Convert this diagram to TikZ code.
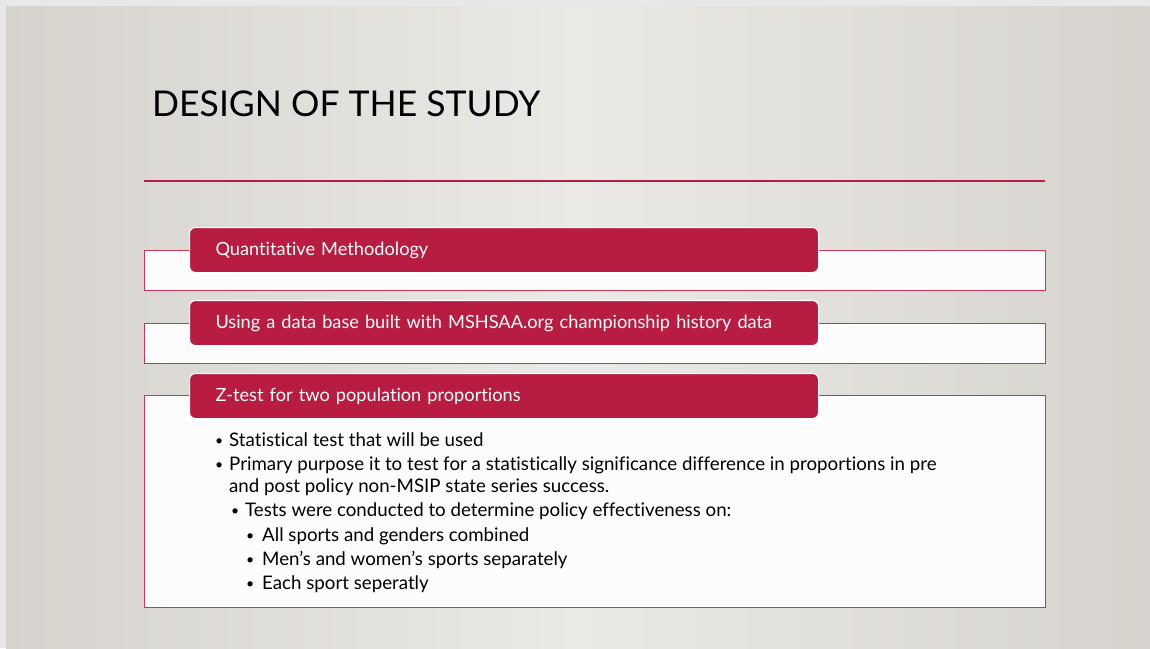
\documentclass[tikz,border=0pt]{standalone}
\usepackage{fontspec}
\setmainfont{Lato}[Ligatures={NoCommon}]
\definecolor{crim}{RGB}{184,29,65}
\definecolor{crimedge}{RGB}{200,55,90}
\definecolor{frame}{RGB}{232,232,232}
\definecolor{bgdark}{RGB}{214,211,205}
\definecolor{bglight}{RGB}{235,233,229}
\definecolor{boxfill}{RGB}{252,252,252}
\tikzset{
  hdr/.style={draw=white, line width=1pt, fill=crim, rounded corners=6pt, anchor=north west,
    minimum width=629pt, minimum height=45pt, inner xsep=26pt, text width=577pt, align=left,
    text=white, font=\fontsize{18.2}{20}\selectfont},
  outerbox/.style={draw=crimedge, line width=1.3pt, fill=boxfill, anchor=north west,
    minimum width=901pt, inner sep=0pt},
  body/.style={anchor=base west, inner sep=0pt, font=\fontsize{18.7}{20}\selectfont},
  dot/.style={anchor=base west, inner sep=0pt, font=\fontsize{14}{16}\selectfont},
}
\begin{document}
\begin{tikzpicture}[x=1pt,y=-1pt]
\useasboundingbox (0,0) rectangle (1150,648);
\fill[frame] (0,0) rectangle (1150,648);
\shade[left color=bgdark, right color=bgdark, middle color=bglight] (6,6) rectangle (1150,648);
% title
\node[anchor=base west, inner sep=0pt, font=\fontsize{35.5}{38}\selectfont] (title) at (152,116) {DESIGN OF THE STUDY};
\coordinate (rl) at (144,181);
\coordinate (rr) at (1045,181);
\draw[crim, line width=2.5pt] (rl) -- (rr);
% boxes
\node[outerbox, minimum height=40pt] (b1) at (144,250) {};
\node[hdr] (h1) at (189,227) {Quantitative Methodology};
\node[outerbox, minimum height=40pt] (b2) at (144,323) {};
\node[hdr] (h2) at (189,300) {Using a data base built with MSHSAA.org championship history data};
\node[outerbox, minimum height=212pt] (b3) at (144,395) {};
\node[hdr] (h3) at (189,373) {Z-test for two population proportions};
% body
\node[dot] (u1) at (215,445) {•};
\node[body] (t1) at (229,446) {Statistical test that will be used};
\node[dot] (u2) at (215,469) {•};
\node[body] (t2) at (229,470) {Primary purpose it to test for a statistically significance difference in proportions in pre};
\node[body] (t2b) at (229,492) {and post policy non-MSIP state series success.};
\node[dot] (u3) at (231,515) {•};
\node[body] (t3) at (245,516) {Tests were conducted to determine policy effectiveness on:};
\node[dot] (u4) at (246,540) {•};
\node[body] (t4) at (262,541) {All sports and genders combined};
\node[dot] (u5) at (246,564) {•};
\node[body] (t5) at (262,565) {Men’s and women’s sports separately};
\node[dot] (u6) at (246,588) {•};
\node[body] (t6) at (262,589) {Each sport seperatly};
\end{tikzpicture}
\end{document}
